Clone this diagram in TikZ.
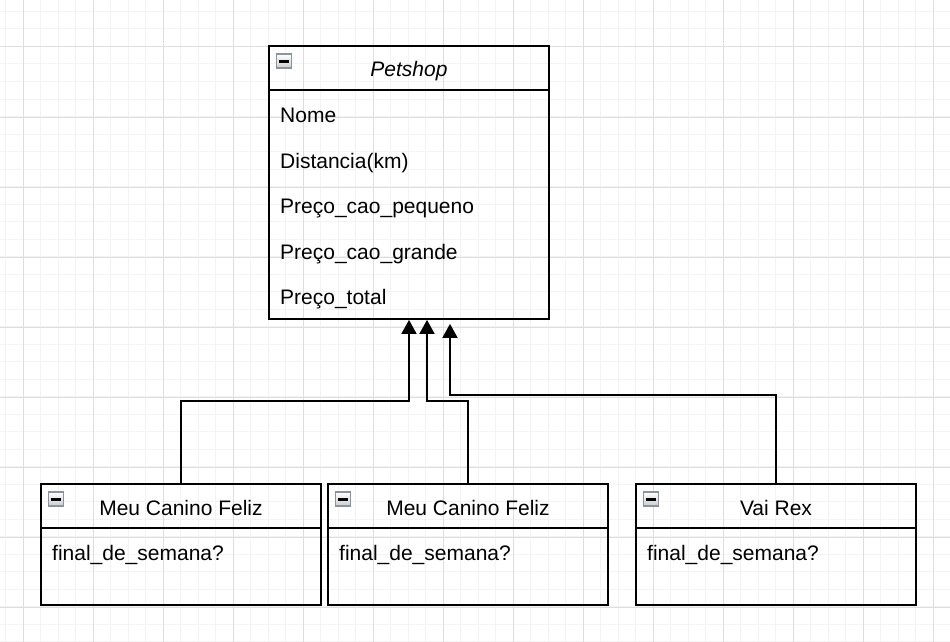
\documentclass[tikz,border=0pt]{standalone}
\usepackage{fontspec}
\setmainfont{Liberation Sans}
\usetikzlibrary{arrows.meta}

\definecolor{gridminor}{HTML}{F3F3F3}
\definecolor{gridmajor}{HTML}{DEDEDE}
\definecolor{iconedge}{HTML}{8A93A0}

\tikzset{
  classbox/.style={draw,line width=1.8pt,minimum width=280pt,inner sep=0pt},
  sepline/.style={line width=1.8pt},
  attr/.style={anchor=base west,inner sep=0pt},
  ctitle/.style={anchor=base,inner sep=0pt},
  inh/.style={line width=1.8pt,-{Triangle[width=15pt,length=14pt]}},
  iconbox/.style={draw=iconedge,line width=1.6pt,top color=white,bottom color=gray!40},
}

% collapse icon in the corner of a class box
\newcommand\collapseicon[1]{%
  \draw[iconbox] ([xshift=8.5pt,yshift=-9pt]#1.north west) rectangle ++(15,14);
  \fill ([xshift=11pt,yshift=-14.5pt]#1.north west) rectangle ++(10,3.2);
}

\begin{document}
\begin{tikzpicture}[x=1pt,y=-1pt,font=\fontsize{21pt}{25pt}\selectfont]
\useasboundingbox (0,0) rectangle (950,642);

% background grid
\foreach \x in {5.5,23,...,950} \draw[gridminor,line width=1pt] (\x,0) -- (\x,642);
\foreach \y in {11.5,29,...,642} \draw[gridminor,line width=1pt] (0,\y) -- (950,\y);
\foreach \x in {23,93,...,950} \draw[gridmajor,line width=1pt] (\x,0) -- (\x,642);
\foreach \y in {47,117,...,642} \draw[gridmajor,line width=1pt] (0,\y) -- (950,\y);

% superclass
\node[classbox,minimum height=273pt] (ps) at (409,182.5) {};
\draw[sepline] ([yshift=-45pt]ps.north west) -- ([yshift=-45pt]ps.north east);
\node[ctitle] (ps-t) at (409,77) {\itshape Petshop};
\collapseicon{ps}
\foreach \t [count=\i] in {Nome,Distancia(km),Preço\_cao\_pequeno,Preço\_cao\_grande,Preço\_total}
  \node[attr] (ps-a\i) at (280,77+45.5*\i) {\t};

% subclasses
\foreach \x/\n/\t in {181/c1/Meu Canino Feliz,468/c2/Meu Canino Feliz,776/c3/Vai Rex} {
  \node[classbox,minimum height=121pt] (\n) at (\x,544.5) {};
  \draw[sepline] ([yshift=-44.5pt]\n.north west) -- ([yshift=-44.5pt]\n.north east);
  \node[ctitle] (\n-t) at (\x,515) {\t};
  \node[attr] (\n-a) at (\x-129,560) {final\_de\_semana?};
  \collapseicon{\n}
}

% inheritance
\draw[inh] (c1.north) -- ++(0,-82) -| (ps.south);
\draw[inh] (c2.north) -- ++(0,-82) -| ([xshift=18pt]ps.south);
\draw[inh] (c3.north) -- ++(0,-88) -| ([xshift=41pt,yshift=-4pt]ps.south);
\end{tikzpicture}
\end{document}
